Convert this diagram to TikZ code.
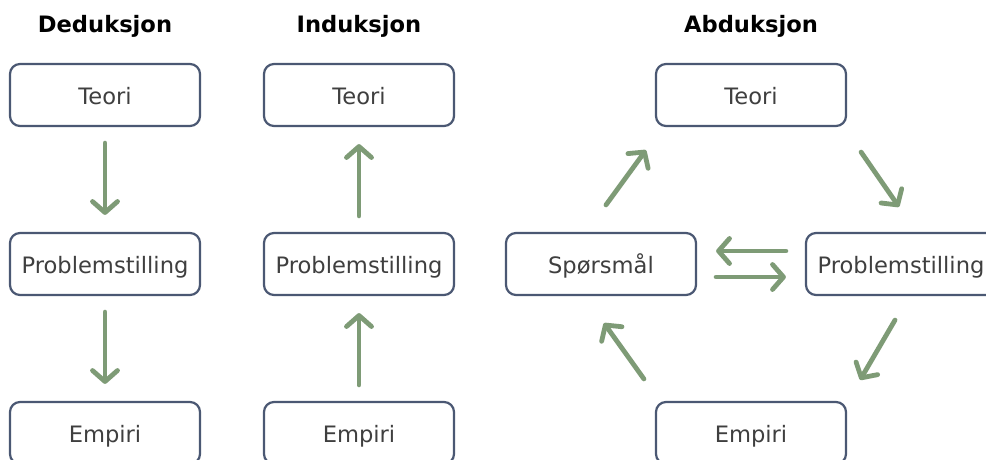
\documentclass[tikz,border=0pt]{standalone}
\usepackage{fontspec}
\setmainfont{DejaVu Sans}
\usetikzlibrary{arrows.meta}
\definecolor{boxline}{HTML}{4B5873}
\definecolor{arrowgreen}{HTML}{7E9B76}
\definecolor{labeltext}{HTML}{3F3F3F}
\tikzset{
  stage/.style={draw=boxline, line width=2.2pt, rounded corners=10pt, fill=white,
    minimum width=190pt, minimum height=62pt, inner sep=0pt,
    text height=18.5pt, text depth=0pt,
    text=labeltext, font=\fontsize{22.6}{25}\selectfont},
  heading/.style={font=\bfseries\fontsize{22.6}{25}\selectfont, text=black,
    text height=16.5pt, text depth=0pt},
  flow/.style={draw=arrowgreen, line width=4.8pt, line cap=round,
    -{Straight Barb[length=11pt,width=25pt,round]}},
  gap/.style={shorten <=16pt, shorten >=17pt}
}
\begin{document}
\begin{tikzpicture}[x=1pt,y=-1pt]
\useasboundingbox (0,0) rectangle (986,459);
\fill[white] (0,0) rectangle (986,459);

% headings
\node[heading] (h1) at (105,24.5) {Deduksjon};
\node[heading] (h2) at (359,24.5) {Induksjon};
\node[heading] (h3) at (751,24.5) {Abduksjon};

% deduction column
\node[stage] (t1) at (105,95)  {Teori};
\node[stage] (p1) at (105,264) {Problemstilling};
\node[stage] (e1) at (105,433) {Empiri};
\draw[flow,gap] (t1) -- (p1);
\draw[flow,gap] (p1) -- (e1);

% induction column
\node[stage] (t2) at (359,95)  {Teori};
\node[stage] (p2) at (359,264) {Problemstilling};
\node[stage] (e2) at (359,433) {Empiri};
\draw[flow,gap] (e2) -- (p2);
\draw[flow,gap] (p2) -- (t2);

% abduction cycle
\node[stage] (t3) at (751,95)  {Teori};
\node[stage] (s3) at (601,264) {Spørsmål};
\node[stage] (p3) at (901,264) {Problemstilling};
\node[stage] (e3) at (751,433) {Empiri};

\draw[flow] ([shift={(5,-27)}]s3.north) -- ([shift={(-9,23)}]t3.south west);
\draw[flow] ([shift={(14,25)}]t3.south east) -- ([shift={(-2,-25)}]p3.north);
\draw[flow] ([shift={(-19,-13)}]p3.west) -- ([shift={(19,-13)}]s3.east);
\draw[flow] ([shift={(19,13)}]s3.east) -- ([shift={(-19,13)}]p3.west);
\draw[flow] ([shift={(-6,24)}]p3.south) -- ([shift={(13,-21)}]e3.north east);
\draw[flow] ([shift={(-11,-22)}]e3.north west) -- ([shift={(3,27)}]s3.south);
\end{tikzpicture}
\end{document}
